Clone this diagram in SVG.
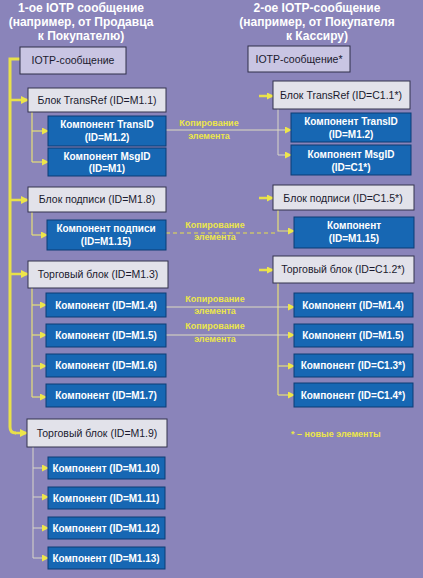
<svg xmlns="http://www.w3.org/2000/svg" width="423" height="578" viewBox="0 0 423 578">
<defs>
<style>
.hdr{font-family:"Liberation Sans",Arial,sans-serif;font-weight:bold;font-size:12px;fill:#ffffff;text-anchor:middle}
.lt{fill:#e2e2ea;stroke:#33334d;stroke-width:1}
.io{fill:#c9c5e3;stroke:#2e2e48;stroke-width:1}
.bl{fill:#1767b3;stroke:#0c3c74;stroke-width:1}
.dt{font-family:"Liberation Sans",Arial,sans-serif;font-size:10.5px;fill:#1a1a2e;text-anchor:middle}
.wt{font-family:"Liberation Sans",Arial,sans-serif;font-weight:bold;font-size:10px;fill:#ffffff;text-anchor:middle}
.yl{font-family:"Liberation Sans",Arial,sans-serif;font-weight:bold;font-size:9px;fill:#ece64a;text-anchor:middle}
.main{fill:none;stroke:#e8e04a;stroke-width:3}
.stub{fill:none;stroke:#e8e04a;stroke-width:2.5}
.thin{fill:none;stroke:#e6df78;stroke-width:1.2}
.pale{fill:none;stroke:#d9d6c8;stroke-width:1}
.copy{fill:none;stroke:#dedbc0;stroke-width:1}
.dash{fill:none;stroke:#e8e04a;stroke-width:1.2;stroke-dasharray:4 3}
</style>
<marker id="ah" markerUnits="userSpaceOnUse" markerWidth="8" markerHeight="8" refX="7" refY="4" orient="auto">
<path d="M0,0 L8,4 L0,8 Z" fill="#eee64a"/>
</marker>
<marker id="as" markerUnits="userSpaceOnUse" markerWidth="7" markerHeight="7" refX="6" refY="3.5" orient="auto">
<path d="M0,0 L7,3.5 L0,7 Z" fill="#eee64a"/>
</marker>
</defs>
<rect x="0" y="0" width="423" height="578" fill="#8a84ba"/>

<g id="headers">
<text class="hdr" x="81" y="12">1-ое IOTP сообщение</text>
<text class="hdr" x="81" y="26">(например, от Продавца</text>
<text class="hdr" x="81" y="40">к Покупателю)</text>
<text class="hdr" x="317" y="12">2-ое IOTP-сообщение</text>
<text class="hdr" x="317" y="26">(например, от Покупателя</text>
<text class="hdr" x="317" y="40">к Кассиру)</text>
</g>

<g id="connectors">
<path class="main" d="M20,59 H10 V427 Q10,433 16,433"/>
<line class="stub" x1="10" y1="100" x2="28" y2="100" marker-end="url(#ah)"/>
<line class="stub" x1="10" y1="200" x2="28" y2="200" marker-end="url(#ah)"/>
<line class="stub" x1="10" y1="274" x2="28" y2="274" marker-end="url(#ah)"/>
<line class="stub" x1="15" y1="433" x2="27" y2="433" marker-end="url(#ah)"/>

<path class="thin" d="M32,112 V162"/>
<line class="thin" x1="32" y1="131" x2="48" y2="131" marker-end="url(#as)"/>
<line class="thin" x1="32" y1="162" x2="48" y2="162" marker-end="url(#as)"/>

<path class="thin" d="M32,212 V235"/>
<line class="thin" x1="32" y1="235" x2="47" y2="235" marker-end="url(#as)"/>

<path class="thin" d="M32,288 V397"/>
<line class="thin" x1="32" y1="305" x2="46" y2="305" marker-end="url(#as)"/>
<line class="thin" x1="32" y1="335" x2="46" y2="335" marker-end="url(#as)"/>
<line class="thin" x1="32" y1="366" x2="46" y2="366" marker-end="url(#as)"/>
<line class="thin" x1="32" y1="397" x2="46" y2="397" marker-end="url(#as)"/>

<path class="pale" d="M33,447 V558"/>
<line class="pale" x1="33" y1="468" x2="48" y2="468" marker-end="url(#as)"/>
<line class="pale" x1="33" y1="497" x2="48" y2="497" marker-end="url(#as)"/>
<line class="pale" x1="33" y1="528" x2="48" y2="528" marker-end="url(#as)"/>
<line class="pale" x1="33" y1="558" x2="48" y2="558" marker-end="url(#as)"/>

<line class="stub" x1="259" y1="96" x2="273" y2="96" marker-end="url(#as)"/>
<line class="stub" x1="259" y1="198" x2="273" y2="198" marker-end="url(#as)"/>
<line class="stub" x1="259" y1="270" x2="273" y2="270" marker-end="url(#as)"/>

<path class="pale" d="M278,109 V155"/>
<line class="pale" x1="278" y1="155" x2="291" y2="155" marker-end="url(#as)"/>

<path class="thin" d="M278,210 V231 H294" marker-end="url(#as)"/>

<path class="thin" d="M278,283 V395"/>
<line class="thin" x1="278" y1="366" x2="294" y2="366" marker-end="url(#as)"/>
<line class="thin" x1="278" y1="395" x2="294" y2="395" marker-end="url(#as)"/>

<line class="copy" x1="166" y1="130" x2="291" y2="130" marker-end="url(#as)"/>
<line class="dash" x1="166" y1="233" x2="278" y2="233"/>
<line class="copy" x1="166" y1="307" x2="294" y2="307" marker-end="url(#as)"/>
<line class="copy" x1="166" y1="335" x2="294" y2="335" marker-end="url(#as)"/>
</g>

<g id="copy-labels">
<text class="yl" x="209" y="126">Копирование</text>
<text class="yl" x="209" y="139">элемента</text>
<text class="yl" x="215" y="228">Копирование</text>
<text class="yl" x="215" y="240">элемента</text>
<text class="yl" x="215" y="302">Копирование</text>
<text class="yl" x="215" y="314">элемента</text>
<text class="yl" x="215" y="329">Копирование</text>
<text class="yl" x="215" y="342">элемента</text>
</g>

<g id="L-iotp"><rect class="io" x="20" y="47" width="106" height="27"/><text class="dt" x="73" y="64">IOTP-сообщение</text></g>
<g id="L-transref"><rect class="lt" x="28" y="88" width="138" height="24"/><text class="dt" x="97" y="104">Блок TransRef (ID=M1.1)</text></g>
<g id="L-transid"><rect class="bl" x="48" y="116" width="118" height="30"/><text class="wt" x="107" y="128">Компонент TransID</text><text class="wt" x="107" y="141">(ID=M1.2)</text></g>
<g id="L-msgid"><rect class="bl" x="48" y="148" width="118" height="28"/><text class="wt" x="107" y="160">Компонент MsgID</text><text class="wt" x="107" y="172">(ID=M1)</text></g>
<g id="L-sign"><rect class="lt" x="28" y="187" width="138" height="25"/><text class="dt" x="97" y="203">Блок подписи (ID=M1.8)</text></g>
<g id="L-signcomp"><rect class="bl" x="47" y="220" width="119" height="30"/><text class="wt" x="106" y="232">Компонент подписи</text><text class="wt" x="106" y="245">(ID=M1.15)</text></g>
<g id="L-trade13"><rect class="lt" x="28" y="261" width="140" height="27"/><text class="dt" x="98" y="278">Торговый блок (ID=M1.3)</text></g>
<g id="L-c14"><rect class="bl" x="46" y="293" width="120" height="24"/><text class="wt" x="106" y="309">Компонент (ID=M1.4)</text></g>
<g id="L-c15"><rect class="bl" x="46" y="324" width="120" height="23"/><text class="wt" x="106" y="339">Компонент (ID=M1.5)</text></g>
<g id="L-c16"><rect class="bl" x="46" y="354" width="120" height="23"/><text class="wt" x="106" y="369">Компонент (ID=M1.6)</text></g>
<g id="L-c17"><rect class="bl" x="46" y="384" width="120" height="23"/><text class="wt" x="106" y="399">Компонент (ID=M1.7)</text></g>
<g id="L-trade19"><rect class="lt" x="27" y="419" width="140" height="28"/><text class="dt" x="97" y="437">Торговый блок (ID=M1.9)</text></g>
<g id="L-c110"><rect class="bl" x="48" y="457" width="117" height="22"/><text class="wt" x="106" y="472">Компонент (ID=M1.10)</text></g>
<g id="L-c111"><rect class="bl" x="48" y="487" width="117" height="22"/><text class="wt" x="106" y="502">Компонент (ID=M1.11)</text></g>
<g id="L-c112"><rect class="bl" x="48" y="517" width="117" height="22"/><text class="wt" x="106" y="532">Компонент (ID=M1.12)</text></g>
<g id="L-c113"><rect class="bl" x="48" y="547" width="117" height="22"/><text class="wt" x="106" y="562">Компонент (ID=M1.13)</text></g>

<g id="R-iotp"><rect class="io" x="248" y="46" width="102" height="26"/><text class="dt" x="299" y="63">IOTP-сообщение*</text></g>
<g id="R-transref"><rect class="lt" x="273" y="81" width="137" height="28"/><text class="dt" x="341" y="99">Блок TransRef (ID=C1.1*)</text></g>
<g id="R-transid"><rect class="bl" x="291" y="113" width="120" height="29"/><text class="wt" x="351" y="125">Компонент TransID</text><text class="wt" x="351" y="138">(ID=M1.2)</text></g>
<g id="R-msgid"><rect class="bl" x="291" y="145" width="120" height="30"/><text class="wt" x="351" y="158">Компонент MsgID</text><text class="wt" x="351" y="171">(ID=C1*)</text></g>
<g id="R-sign"><rect class="lt" x="273" y="185" width="141" height="25"/><text class="dt" x="343" y="202">Блок подписи (ID=C1.5*)</text></g>
<g id="R-comp115"><rect class="bl" x="294" y="217" width="120" height="31"/><text class="wt" x="354" y="229">Компонент</text><text class="wt" x="354" y="242">(ID=M1.15)</text></g>
<g id="R-trade"><rect class="lt" x="273" y="256" width="141" height="27"/><text class="dt" x="343" y="273">Торговый блок (ID=C1.2*)</text></g>
<g id="R-c14"><rect class="bl" x="294" y="293" width="119" height="24"/><text class="wt" x="353" y="309">Компонент (ID=M1.4)</text></g>
<g id="R-c15"><rect class="bl" x="294" y="324" width="119" height="23"/><text class="wt" x="353" y="339">Компонент (ID=M1.5)</text></g>
<g id="R-c13s"><rect class="bl" x="294" y="354" width="119" height="23"/><text class="wt" x="353" y="369">Компонент (ID=C1.3*)</text></g>
<g id="R-c14s"><rect class="bl" x="294" y="383" width="119" height="24"/><text class="wt" x="353" y="399">Компонент (ID=C1.4*)</text></g>

<g id="note"><text class="yl" x="291" y="437" style="text-anchor:start">* – новые элементы</text></g>
</svg>
